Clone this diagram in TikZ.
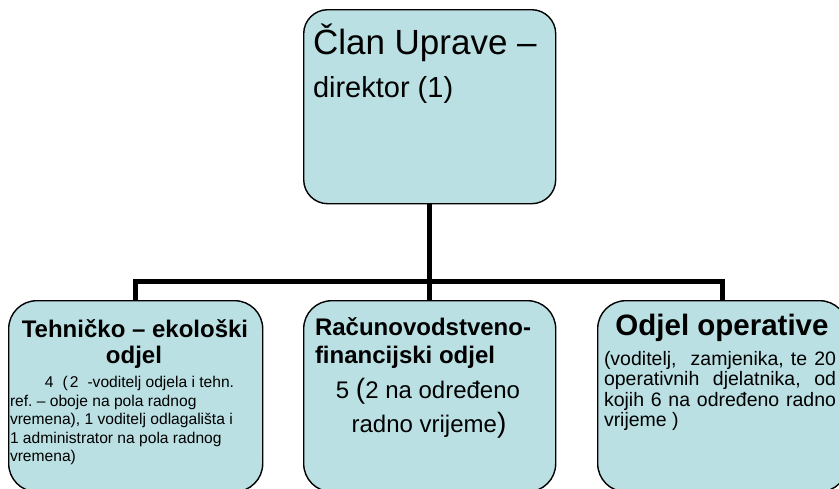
\documentclass[tikz,border=0pt]{standalone}
\usepackage{fontspec}
\setmainfont{Liberation Sans}
\definecolor{boxfill}{RGB}{186,224,227}
\tikzset{
  box/.style={draw=black, line width=1.4pt, fill=boxfill, rounded corners=#1, rectangle, anchor=north west, inner sep=0pt},
  conn/.style={draw=black, line width=5pt, line join=miter},
  txt/.style={inner sep=0pt, outer sep=0pt, text=black},
}
\newcommand{\fs}[2]{\fontsize{#1}{#2}\selectfont}
\newcommand{\jline}[1]{\makebox[232pt][s]{\spaceskip=0.278em plus 1fil #1}}
\frenchspacing
\begin{document}
\begin{tikzpicture}[x=1pt,y=-1pt]
\useasboundingbox (0,0) rectangle (839,488);
\clip (0,0) rectangle (839,488);
\fill[white] (0,0) rectangle (839,488);
% boxes
\node[box=24pt, minimum width=252pt, minimum height=194pt] (top) at (303,9) {};
\node[box=28pt, minimum width=254pt, minimum height=191pt] (L) at (8,300) {};
\node[box=28pt, minimum width=252pt, minimum height=191pt] (M) at (303,300) {};
\node[box=28pt, minimum width=250pt, minimum height=191pt] (R) at (597,300) {};
% connectors
\coordinate (bar) at (428,281);
\draw[conn] (top.south) -- (top.south |- bar) -- (M.north);
\draw[conn] (L.north) -- (L.north |- bar) -- (R.north |- bar) -- (R.north);
% top text
\node[txt, anchor=base west, font=\fs{35}{35}] (t1) at (313,54) {Član Uprave –};
\node[txt, anchor=base west, font=\fs{29}{29}] (t2) at (313,97) {direktor (1)};
% left box
\node[txt, anchor=base, font=\bfseries\fs{24}{24}] (l1) at (135,337) {Tehničko – ekološki};
\node[txt, anchor=base, font=\bfseries\fs{24}{24}] (l2) at (134,363) {odjel};
\node[txt, anchor=base west, font=\fs{15.6}{18.5}] (l3) at (45,387) {4\hspace{9pt}(\hspace{2pt}2\hspace{9pt}-voditelj odjela i tehn.};
\node[txt, anchor=base west, font=\fs{15.6}{18.5}] (l4) at (10,406) {\begin{tabular}[t]{@{}l@{}}ref. – oboje na pola radnog\\ vremena), 1 voditelj odlagališta i\\ 1 administrator na pola radnog\\ vremena)\end{tabular}};
% middle box
\node[txt, anchor=base west, font=\bfseries\fs{24}{24}] (m1) at (315,335) {Računovodstveno-};
\node[txt, anchor=base west, font=\bfseries\fs{24}{24}] (m2) at (315,363) {financijski odjel};
\node[txt, anchor=base, font=\fs{24}{24}] (m3) at (428,398) {5 {\fs{28}{28}(}2 na određeno};
\node[txt, anchor=base, font=\fs{24}{24}] (m4) at (429,432) {radno vrijeme{\fs{28}{28})}};
% right box
\node[txt, anchor=base, font=\bfseries\fs{29.5}{30}] (r1) at (722,335) {Odjel operative};
\node[txt, anchor=base west, font=\fs{19.5}{20.5}] (r2) at (604,365) {\begin{tabular}[t]{@{}l@{}}\jline{(voditelj,\ \ zamjenika, te 20}\\ \jline{operativnih djelatnika, od}\\ \jline{kojih 6 na određeno radno}\\ vrijeme )\end{tabular}};
\end{tikzpicture}
\end{document}
